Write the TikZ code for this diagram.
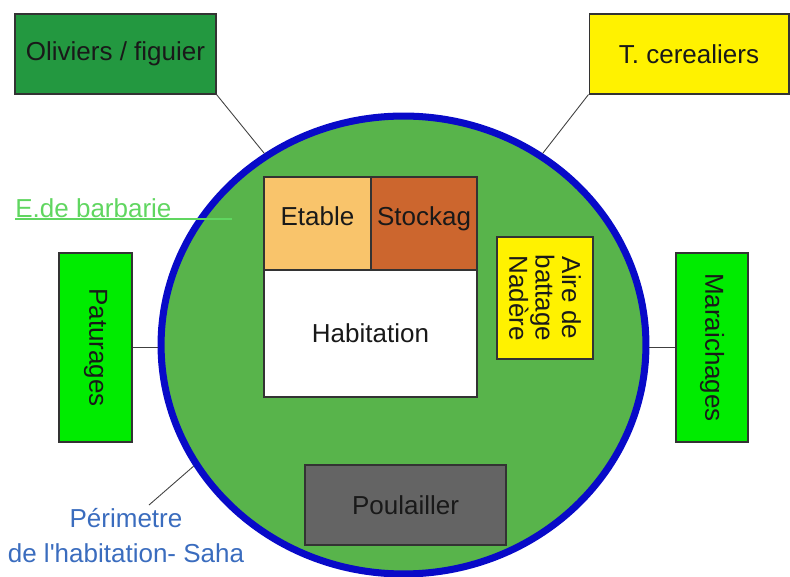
\documentclass[tikz,border=0pt]{standalone}
\usepackage{fontspec}
\setsansfont{Liberation Sans}
\usetikzlibrary{shapes.geometric}

\definecolor{olivgreen}{RGB}{35,152,64}
\definecolor{stripgreen}{RGB}{0,236,0}
\definecolor{sahagreen}{RGB}{88,180,75}
\definecolor{sahablue}{RGB}{8,10,200}
\definecolor{etablefill}{RGB}{249,196,107}
\definecolor{stockfill}{RGB}{204,102,46}
\definecolor{poulgray}{RGB}{100,100,100}
\definecolor{barbgreen}{RGB}{96,214,96}
\definecolor{perimblue}{RGB}{58,108,190}

\begin{document}
\begin{tikzpicture}[
  x=0.02cm, y=-0.02cm,
  font=\sffamily\fontsize{14.8}{17}\selectfont,
  box/.style={draw=black!80, line width=0.6pt, inner sep=0pt, align=center, text=black!90},
  plot/.style={box, minimum width=4.02cm, minimum height=1.6cm},
  strip/.style={box, fill=stripgreen, rotate=-90, minimum width=3.78cm, minimum height=1.46cm},
  roof/.style={box, minimum height=1.86cm, text height=10.5pt, text depth=8.5pt},
  link/.style={draw=black!75, line width=0.5pt},
  underline/.style={draw=barbgreen, line width=0.7pt}
]
\useasboundingbox (0,0) rectangle (790,577);

% === PERIMETRE (SAHA) ===
\node[ellipse, draw=sahablue, fill=sahagreen, line width=4pt, inner sep=0pt,
      minimum width=9.7cm, minimum height=9.16cm] (saha) at (403.5,345) {};

% === INSIDE THE SAHA ===
\node[roof, fill=etablefill, minimum width=2.14cm] (etable) at (317.5,223.5) {Etable};
\node[roof, fill=stockfill, minimum width=2.12cm] (stock) at (424,223.5) {Stockag};
\node[box, fill=white, minimum width=4.26cm, minimum height=2.54cm] (habit) at (370.5,333.5) {Habitation};
\node[box, fill=yellow, rotate=-90, minimum width=2.44cm, minimum height=1.92cm,
      font=\sffamily\fontsize{14.8}{15}\selectfont] (aire) at (545,298) {Aire de\\battage\\Nadère};
\node[box, fill=poulgray, minimum width=4.02cm, minimum height=1.6cm] (poul) at (405.5,505) {Poulailler};

% === AROUND THE SAHA ===
\node[plot, fill=olivgreen] (oliv) at (115.5,54) {Oliviers / figuier};
\node[plot, fill=yellow, minimum width=4cm] (cereal) at (689,54) {T. cerealiers};
\node[strip] (patur) at (95.5,347.5) {Paturages};
\node[strip, minimum height=1.44cm] (marai) at (712,347.5) {Maraichages};

\draw[link] (oliv.south east) -- (saha.126);
\draw[link] (cereal.south west) -- (saha.54);
\draw[link] (patur.north) -- (patur.north -| saha.west);
\draw[link] (marai.south -| saha.east) -- (marai.south);

% E.de barbarie, underlined into the saha
\node[anchor=base west, inner sep=0pt, text=barbgreen] (barb) at (15,218) {E.de barbarie};
\coordinate (barbend) at (232,219);
\draw[underline] (barb.base west) ++(0,1) -- (barbend);

% Perimetre label
\node[anchor=north, inner sep=0pt, align=center, text=perimblue,
      font=\sffamily\fontsize{14.8}{19.8}\selectfont] (perim) at (126,508)
  {Périmetre\\de l\textquotesingle habitation- Saha};
\coordinate (perimtip) at (149,505);
\draw[link] (saha.210) -- (perimtip);

\end{tikzpicture}
\end{document}
